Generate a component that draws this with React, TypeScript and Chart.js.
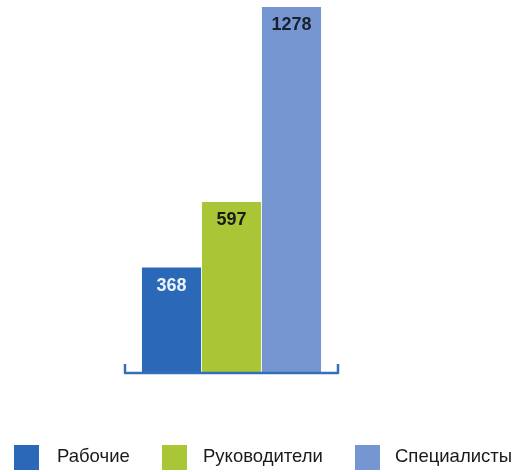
import React, { useEffect, useRef } from "react";
import { Chart, registerables } from "chart.js";

Chart.register(...registerables);

const categories = [""];
const seriesNames = ["Рабочие", "Руководители", "Специалисты"];
const workers = [368];
const managers = [597];
const specialists = [1278];
const seriesColors = ["#2b69b8", "#a9c636", "#7596d0"];
const labelColors = ["#eef2fa", "#1a1a1a", "#1a2030"];

const labelsPlugin = {
  id: "barLabels",
  afterDatasetsDraw(chart: any) {
    const ctx = chart.ctx;
    ctx.save();
    ctx.font = "bold 18px 'Liberation Sans', Arial, sans-serif";
    ctx.textAlign = "center";
    ctx.textBaseline = "middle";
    chart.data.datasets.forEach((ds: any, i: number) => {
      const meta = chart.getDatasetMeta(i);
      meta.data.forEach((el: any, j: number) => {
        ctx.fillStyle = labelColors[i];
        ctx.fillText(String(ds.data[j]), el.x, el.y + 18);
      });
    });
    ctx.restore();
  },
};

const axisPlugin = {
  id: "bracketAxis",
  afterDatasetsDraw(chart: any) {
    const { ctx, chartArea } = chart;
    const { left, right, bottom } = chartArea;
    ctx.save();
    ctx.strokeStyle = "#3470b8";
    ctx.lineWidth = 2.5;
    ctx.lineJoin = "round";
    ctx.beginPath();
    ctx.moveTo(left, bottom - 9);
    ctx.lineTo(left, bottom);
    ctx.lineTo(right, bottom);
    ctx.lineTo(right, bottom - 9);
    ctx.stroke();
    ctx.restore();
  },
};

const legendPlugin = {
  id: "customLegend",
  afterDraw(chart: any) {
    const ctx = chart.ctx;
    const boxX = [14, 162, 355];
    const textX = [57, 203, 395];
    ctx.save();
    ctx.font = "18.5px 'Liberation Sans', Arial, sans-serif";
    ctx.textBaseline = "middle";
    ctx.textAlign = "left";
    chart.data.datasets.forEach((ds: any, i: number) => {
      ctx.fillStyle = ds.backgroundColor;
      ctx.fillRect(boxX[i], 445, 25, 25);
      ctx.fillStyle = "#1a1a1a";
      ctx.fillText(ds.label, textX[i], 457);
    });
    ctx.restore();
  },
};

export default function App() {
  const ref = useRef<HTMLCanvasElement>(null);
  useEffect(() => {
    document.body.style.margin = "0";
    const all = [...workers, ...managers, ...specialists];
    const chart = new Chart(ref.current!, {
      type: "bar",
      data: {
        labels: categories,
        datasets: [
          { label: seriesNames[0], data: workers, backgroundColor: seriesColors[0] },
          { label: seriesNames[1], data: managers, backgroundColor: seriesColors[1] },
          { label: seriesNames[2], data: specialists, backgroundColor: seriesColors[2] },
        ],
      },
      options: {
        responsive: false,
        animation: false,
        layout: { padding: { left: 125, right: 184, top: 7, bottom: 99 } },
        datasets: { bar: { categoryPercentage: 0.845, barPercentage: 0.985 } },
        plugins: { legend: { display: false }, tooltip: { enabled: false } },
        scales: {
          x: { display: false },
          y: { display: false, min: 0, max: Math.max(...all) },
        },
      },
      plugins: [labelsPlugin, axisPlugin, legendPlugin],
    });
    return () => chart.destroy();
  }, []);
  return (
    <div style={{ width: 522, height: 472, background: "#fff" }}>
      <canvas ref={ref} width={522} height={472} />
    </div>
  );
}
